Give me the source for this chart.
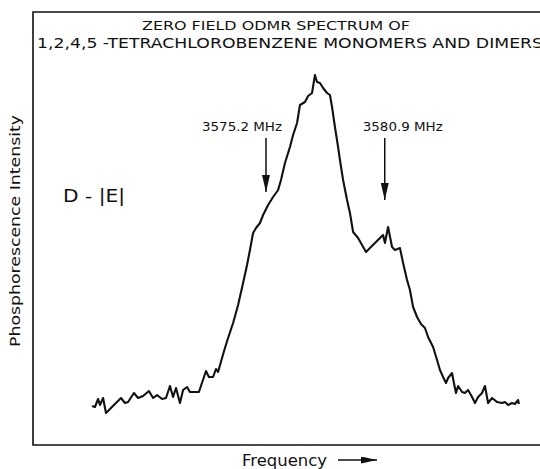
<!DOCTYPE html>
<html lang="en">
  <head>
    <meta charset="UTF-8" />
    <title>Zero field ODMR spectrum</title>
    <style>
      body {
        margin: 0;
        background: #fff;
      }
      text {
        font-family: "DejaVu Sans", "Liberation Sans", sans-serif;
        fill: #111;
      }
    </style>
  </head>
  <body>
    <div id="chart"></div>

    <script src="https://cdn.jsdelivr.net/npm/d3@7"></script>

    <script>
      ///////////////////////////////////////////////////////////////////////////
      ////////////////////////////////// Data ///////////////////////////////////
      ///////////////////////////////////////////////////////////////////////////

      //Microwave frequency (MHz)
      var frequency = [
        3566.85, 3566.99, 3567.14, 3567.23, 3567.38, 3567.52, 3567.71, 3567.95,
        3568.24, 3568.43, 3568.58, 3568.86, 3569.06, 3569.3, 3569.58, 3569.78,
        3569.97, 3570.21, 3570.4, 3570.59, 3570.74, 3570.88, 3571.07, 3571.22,
        3571.41, 3571.55, 3571.98, 3572.32, 3572.46, 3572.66, 3572.8, 3572.9,
        3573.09, 3573.23, 3573.38, 3573.62, 3573.86, 3574.1, 3574.29, 3574.43,
        3574.58, 3574.72, 3574.91, 3575.06, 3575.3, 3575.54, 3575.78, 3575.92,
        3576.11, 3576.35, 3576.5, 3576.69, 3576.83, 3577.07, 3577.22, 3577.41,
        3577.55, 3577.65, 3577.79, 3577.94, 3578.13, 3578.27, 3578.37, 3578.51,
        3578.66, 3578.75, 3578.9, 3579.09, 3579.23, 3579.38, 3579.62, 3579.81,
        3580.0, 3580.19, 3580.43, 3580.67, 3580.82, 3580.91, 3581.06, 3581.25,
        3581.39, 3581.63, 3581.78, 3581.97, 3582.11, 3582.26, 3582.45, 3582.64,
        3582.83, 3582.98, 3583.22, 3583.41, 3583.55, 3583.7, 3583.84, 3583.94,
        3584.13, 3584.22, 3584.32, 3584.42, 3584.61, 3584.75, 3584.9, 3585.09,
        3585.23, 3585.38, 3585.57, 3585.71, 3585.86, 3586.05, 3586.29, 3586.53,
        3586.67, 3586.82, 3587.01, 3587.15, 3587.3, 3587.34
      ];

      //Phosphorescence intensity (arbitrary units)
      var intensity = [
        9.75, 9.5, 11.5, 10, 11.75, 8, 9, 10.25,
        11.75, 10.5, 10.75, 13, 11.75, 12.25, 13.5, 11.75,
        12.5, 11.5, 11.75, 14.75, 12, 14.25, 10.5, 13.75,
        14.5, 13.25, 13.25, 18.5, 17, 17, 19, 18.25,
        21.75, 24.25, 26.75, 30.5, 35, 40.5, 45, 48.75,
        53, 54.25, 55.5, 57.5, 60, 62, 63.75, 66.25,
        70.5, 74.5, 77.5, 80.5, 85, 85.75, 87.25, 88,
        92.5, 90.75, 90.5, 89.25, 88, 87.5, 84.5, 79.5,
        74.5, 71.25, 66.25, 61.25, 58, 53.25, 51.75, 50,
        48.25, 49.25, 50.5, 51.75, 52.5, 50.5, 54.5, 49.5,
        48.75, 49.25, 45.5, 41.25, 38.75, 34.5, 32, 30.25,
        29.25, 27, 24.5, 21.25, 18.75, 17, 15.5, 16.75,
        18, 15.5, 13, 14.75, 13.25, 13, 13.75, 12,
        10.5, 12, 13, 14.75, 10.5, 11.75, 10.75, 10.5,
        10.75, 10, 10.5, 10.25, 11.25, 10.25
      ];

      //Marked transitions
      var markLabels = ["3575.2 MHz", "3580.9 MHz"];
      var markFreq = [3575.2, 3580.9];
      var markTail = [76.75, 76.75];
      var markTip = [63.25, 61.25];

      var titleLines = [
        "ZERO FIELD ODMR SPECTRUM OF",
        "1,2,4,5 -TETRACHLOROBENZENE MONOMERS AND DIMERS"
      ];

      ///////////////////////////////////////////////////////////////////////////
      //////////////////////////// Set up the svg ///////////////////////////////
      ///////////////////////////////////////////////////////////////////////////

      var width = 540,
        height = 469;
      var frame = { left: 33, top: 12, right: 540, bottom: 445 };

      var svg = d3
        .select("#chart")
        .append("svg")
        .attr("width", width)
        .attr("height", height);

      var x = d3
        .scaleLinear()
        .domain([3564.016, 3588.352])
        .range([frame.left, frame.right]);
      var y = d3
        .scaleLinear()
        .domain([0, 108.25])
        .range([frame.bottom, frame.top]);

      var defs = svg.append("defs");
      defs
        .append("marker")
        .attr("id", "head")
        .attr("viewBox", "0 0 10 10")
        .attr("refX", 10)
        .attr("refY", 5)
        .attr("markerUnits", "userSpaceOnUse")
        .attr("markerWidth", 17)
        .attr("markerHeight", 8)
        .attr("orient", "auto")
        .attr("preserveAspectRatio", "none")
        .append("path")
        .attr("d", "M0,0L10,5L0,10z")
        .style("fill", "#111");
      defs
        .append("marker")
        .attr("id", "headWide")
        .attr("viewBox", "0 0 10 10")
        .attr("refX", 10)
        .attr("refY", 5)
        .attr("markerUnits", "userSpaceOnUse")
        .attr("markerWidth", 16)
        .attr("markerHeight", 7)
        .attr("orient", "auto")
        .attr("preserveAspectRatio", "none")
        .append("path")
        .attr("d", "M0,0L10,5L0,10z")
        .style("fill", "#111");

      ///////////////////////////////////////////////////////////////////////////
      ////////////////////////////////// Frame //////////////////////////////////
      ///////////////////////////////////////////////////////////////////////////

      //open on the right, like the scanned plot
      svg
        .append("path")
        .attr(
          "d",
          "M" + frame.right + "," + frame.top +
          "H" + frame.left +
          "V" + frame.bottom +
          "H" + frame.right
        )
        .style("fill", "none")
        .style("stroke", "#111")
        .style("stroke-width", 1.6);

      ///////////////////////////////////////////////////////////////////////////
      ////////////////////////////////// Trace //////////////////////////////////
      ///////////////////////////////////////////////////////////////////////////

      var trace = frequency.map(function(f, i) {
        return { f: f, v: intensity[i] };
      });

      var line = d3
        .line()
        .x(function(d) { return x(d.f); })
        .y(function(d) { return y(d.v); });

      svg
        .append("path")
        .datum(trace)
        .attr("d", line)
        .style("fill", "none")
        .style("stroke", "#111")
        .style("stroke-width", 2.1)
        .style("stroke-linejoin", "round");

      ///////////////////////////////////////////////////////////////////////////
      //////////////////////////////// Annotations //////////////////////////////
      ///////////////////////////////////////////////////////////////////////////

      //label centres sit a little off the arrow shafts
      var labelShift = [-24, 18];

      markFreq.forEach(function(f, i) {
        svg
          .append("line")
          .attr("x1", x(f))
          .attr("x2", x(f))
          .attr("y1", y(markTail[i]))
          .attr("y2", y(markTip[i]))
          .attr("marker-end", "url(#head)")
          .style("stroke", "#111")
          .style("stroke-width", 1.5);
        svg
          .append("text")
          .attr("x", x(f) + labelShift[i])
          .attr("y", y(markTail[i]) - 7)
          .attr("text-anchor", "middle")
          .attr("textLength", 80)
          .attr("lengthAdjust", "spacingAndGlyphs")
          .style("font-size", "12px")
          .text(markLabels[i]);
      });

      svg
        .append("text")
        .attr("x", 63)
        .attr("y", 202)
        .attr("textLength", 62)
        .attr("lengthAdjust", "spacingAndGlyphs")
        .style("font-size", "18px")
        .text("D - |E|");

      //Title
      svg
        .append("text")
        .attr("x", 142)
        .attr("y", 30)
        .attr("textLength", 268)
        .attr("lengthAdjust", "spacingAndGlyphs")
        .style("font-size", "13px")
        .text(titleLines[0]);
      svg
        .append("text")
        .attr("x", 37)
        .attr("y", 48)
        .attr("textLength", 506)
        .attr("lengthAdjust", "spacingAndGlyphs")
        .style("font-size", "14.5px")
        .text(titleLines[1]);

      //Axis titles
      svg
        .append("text")
        .attr("transform", "translate(20,231) rotate(-90)")
        .attr("text-anchor", "middle")
        .attr("textLength", 232)
        .attr("lengthAdjust", "spacingAndGlyphs")
        .style("font-size", "14px")
        .text("Phosphorescence Intensity");

      svg
        .append("text")
        .attr("x", 242)
        .attr("y", 466)
        .attr("textLength", 85)
        .attr("lengthAdjust", "spacingAndGlyphs")
        .style("font-size", "15px")
        .text("Frequency");

      svg
        .append("line")
        .attr("x1", 338)
        .attr("x2", 377)
        .attr("y1", 460)
        .attr("y2", 460)
        .attr("marker-end", "url(#headWide)")
        .style("stroke", "#111")
        .style("stroke-width", 1.5);
    </script>
  </body>
</html>
